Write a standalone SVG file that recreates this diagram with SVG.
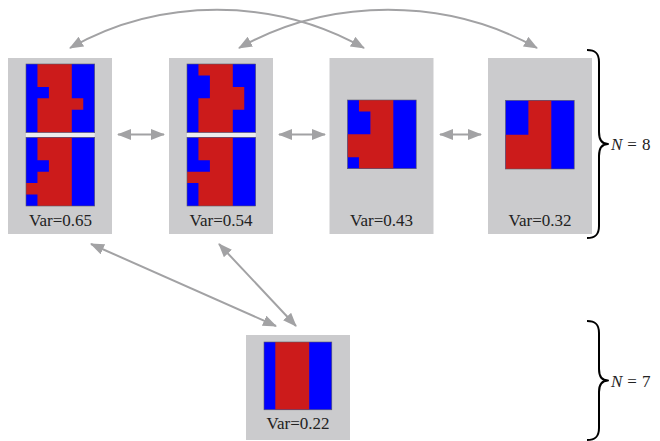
<svg xmlns="http://www.w3.org/2000/svg" width="660" height="441" viewBox="0 0 660 441">
  <style>
    .panel { fill: #cbcbcd; }
    .blue { fill: #0000ff; }
    .red { fill: #cc1b1b; }
    .frame { fill: none; stroke: #5a5a66; stroke-width: 0.6; }
    .gap { fill: #ececee; }
    .lbl { font-family: "Liberation Serif", "DejaVu Serif", serif; font-size: 17px; fill: #222; text-anchor: middle; }
    .conn { fill: none; stroke: #a2a2a4; stroke-width: 2; }
    .brace { fill: none; stroke: #000; stroke-width: 2; stroke-linejoin: round; }
    .nlbl { font-family: "Liberation Serif", "DejaVu Serif", serif; font-size: 17px; fill: #222; }
  </style>
  <defs>
    <marker id="tip" markerUnits="userSpaceOnUse" markerWidth="15" markerHeight="12" refX="13" refY="5.5" orient="auto-start-reverse">
      <path d="M0,0 L14,5.5 L0,11 Z" fill="#a2a2a4"/>
    </marker>
    <!-- 6x6 grids in cell units; blue background, red region on top -->
    <g id="g1a"><rect class="blue" width="6" height="6"/><path class="red" d="M1,0 H4 V3 H5 V4 H4 V6 H1 V3 H2 V2 H1 Z"/></g>
    <g id="g1b"><rect class="blue" width="6" height="6"/><path class="red" d="M1,0 H4 V6 H1 V5 H0 V4 H1 V3 H2 V2 H1 Z"/></g>
    <g id="g2a"><rect class="blue" width="6" height="6"/><path class="red" d="M1,0 H4 V2 H5 V4 H4 V6 H1 V3 H2 V1 H1 Z"/></g>
    <g id="g2b"><rect class="blue" width="6" height="6"/><path class="red" d="M1,0 H4 V6 H1 V4 H0 V3 H2 V2 H1 Z"/></g>
    <g id="g3"><rect class="blue" width="6" height="6"/><path class="red" d="M1,0 H4 V6 H1 V5 H0 V3 H2 V1 H1 Z"/></g>
    <g id="g4"><rect class="blue" width="6" height="6"/><path class="red" d="M2,0 H4 V6 H0 V3 H2 Z"/></g>
    <g id="g5"><rect class="blue" width="6" height="6"/><path class="red" d="M1,0 H4 V6 H1 Z"/></g>
  </defs>

  <rect width="660" height="441" fill="#ffffff"/>

  <!-- connectors -->
  <g id="connectors">
    <path class="conn" d="M118,134.5 H164" marker-start="url(#tip)" marker-end="url(#tip)"/>
    <path class="conn" d="M279,134.5 H325" marker-start="url(#tip)" marker-end="url(#tip)"/>
    <path class="conn" d="M440,134.5 H481" marker-start="url(#tip)" marker-end="url(#tip)"/>
    <path class="conn" d="M70,48 C160,-3 274,-3 364,48" marker-start="url(#tip)" marker-end="url(#tip)"/>
    <path class="conn" d="M239,48 C330,-3 446,-3 537,48" marker-start="url(#tip)" marker-end="url(#tip)"/>
    <path class="conn" d="M91,244 L276,326" marker-start="url(#tip)" marker-end="url(#tip)"/>
    <path class="conn" d="M219,244 L296,326" marker-start="url(#tip)" marker-end="url(#tip)"/>
  </g>

  <!-- nodes -->
  <g id="node1">
    <rect class="panel" x="8" y="58" width="104" height="176"/>
    <use href="#g1a" transform="translate(26,64) scale(11.45)"/>
    <rect class="gap" x="26" y="132.7" width="68.7" height="4.6"/>
    <use href="#g1b" transform="translate(26,137.3) scale(11.45)"/>
    <rect class="frame" x="26" y="64" width="68.7" height="68.7"/>
    <rect class="frame" x="26" y="137.3" width="68.7" height="68.7"/>
    <text class="lbl" x="60.5" y="226">Var=0.65</text>
  </g>
  <g id="node2">
    <rect class="panel" x="169" y="58" width="104" height="176"/>
    <use href="#g2a" transform="translate(187,64) scale(11.45)"/>
    <rect class="gap" x="187" y="132.7" width="68.7" height="4.6"/>
    <use href="#g2b" transform="translate(187,137.3) scale(11.45)"/>
    <rect class="frame" x="187" y="64" width="68.7" height="68.7"/>
    <rect class="frame" x="187" y="137.3" width="68.7" height="68.7"/>
    <text class="lbl" x="221" y="226">Var=0.54</text>
  </g>
  <g id="node3">
    <rect class="panel" x="329.5" y="58" width="104" height="176"/>
    <use href="#g3" transform="translate(347.5,100) scale(11.45)"/>
    <rect class="frame" x="347.5" y="100" width="68.7" height="68.7"/>
    <text class="lbl" x="381.5" y="226">Var=0.43</text>
  </g>
  <g id="node4">
    <rect class="panel" x="488" y="58" width="104" height="176"/>
    <use href="#g4" transform="translate(505.5,100.3) scale(11.45)"/>
    <rect class="frame" x="505.5" y="100.3" width="68.7" height="68.7"/>
    <text class="lbl" x="540" y="226">Var=0.32</text>
  </g>
  <g id="node5">
    <rect class="panel" x="246" y="335" width="104" height="105"/>
    <use href="#g5" transform="translate(264,342) scale(11.3)"/>
    <rect class="frame" x="264" y="342" width="67.8" height="67.8"/>
    <text class="lbl" x="298" y="429">Var=0.22</text>
  </g>

  <!-- group braces -->
  <g id="brace8">
    <path class="brace" d="M587,50 C595,50 599,53 599,62 V132 C599,140 602,144 608,144 C602,144 599,148 599,156 V226 C599,235 595,238 587,238"/>
    <text class="nlbl" x="611" y="150"><tspan font-style="italic">N</tspan><tspan dx="5">=</tspan><tspan dx="5">8</tspan></text>
  </g>
  <g id="brace7">
    <path class="brace" d="M587,321 C595,321 599,324 599,333 V369 C599,377 602,380.5 608,380.5 C602,380.5 599,384 599,392 V428 C599,437 595,440 587,440"/>
    <text class="nlbl" x="611" y="386.5"><tspan font-style="italic">N</tspan><tspan dx="5">=</tspan><tspan dx="5">7</tspan></text>
  </g>
</svg>
